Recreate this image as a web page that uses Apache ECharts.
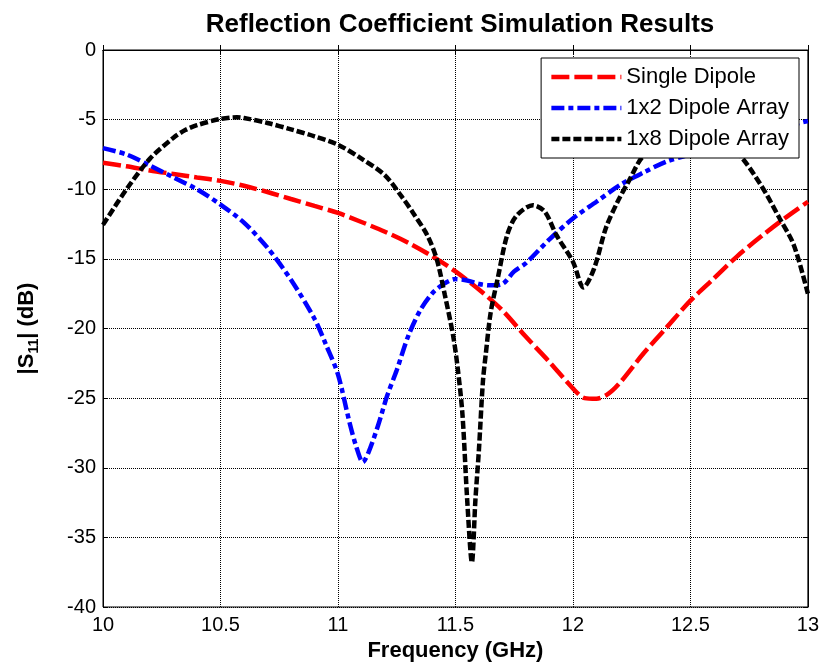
<!DOCTYPE html>
<html>
<head>
<meta charset="utf-8">
<script src="https://cdn.jsdelivr.net/npm/echarts@6/dist/echarts.min.js"></script>
<style>
  html, body { margin: 0; padding: 0; background: #fff; }
  #chart { width: 822px; height: 669px; }
</style>
</head>
<body>
<div id="chart"></div>
<script>
// Single Dipole
var freqSingle = [10.0, 10.1, 10.2, 10.3, 10.4, 10.5, 10.6, 10.7, 10.8, 10.9, 11.0, 11.1, 11.2, 11.3, 11.4,
  11.5, 11.6, 11.7, 11.8, 11.9, 12.0, 12.05, 12.1, 12.15, 12.2, 12.3, 12.4, 12.5, 12.6, 12.7, 12.8, 12.9, 13.0];
var s11Single = [-8.1, -8.35, -8.65, -8.9, -9.15, -9.4, -9.75, -10.2, -10.7, -11.2, -11.7, -12.35, -13.05, -13.85, -14.8,
  -15.9, -17.2, -18.7, -20.6, -22.4, -24.3, -25.0, -25.05, -24.7, -23.9, -21.8, -19.9, -18.0, -16.4, -14.8, -13.4, -12.1, -10.9];

// 1x2 Dipole Array
var freqArr2 = [10.0, 10.1, 10.2, 10.3, 10.4, 10.5, 10.6, 10.7, 10.8, 10.9, 10.95, 11.0, 11.05, 11.08, 11.106, 11.13,
  11.17, 11.21, 11.25, 11.3, 11.35, 11.4, 11.45, 11.5, 11.55, 11.6, 11.65, 11.7, 11.75, 11.8, 11.9, 12.0, 12.1,
  12.2, 12.3, 12.4, 12.5, 12.6, 12.7, 12.8, 12.9, 13.0];
var s11Arr2 = [-7.05, -7.5, -8.3, -9.15, -10.0, -11.1, -12.4, -14.2, -16.5, -19.3, -21.2, -23.3, -26.8, -28.6, -29.6, -28.9,
  -27.0, -24.8, -23.0, -20.5, -18.7, -17.5, -16.8, -16.45, -16.55, -16.8, -16.9, -16.8, -15.9, -15.3, -13.6, -12.1, -10.9,
  -9.7, -8.8, -8.0, -7.5, -7.0, -6.5, -6.0, -5.5, -5.1];

// 1x8 Dipole Array
var freqArr8 = [10.0, 10.1, 10.2, 10.3, 10.35, 10.4, 10.5, 10.57, 10.6, 10.7, 10.8, 10.9, 11.0, 11.1, 11.2, 11.27, 11.32,
  11.38, 11.42, 11.455, 11.49, 11.51, 11.53, 11.55, 11.57, 11.585, 11.6, 11.617, 11.63, 11.65, 11.68, 11.72,
  11.76, 11.83, 11.88, 11.93, 12.0, 12.045, 12.09, 12.14, 12.19, 12.24, 12.3, 12.4, 12.5, 12.6, 12.7, 12.8,
  12.88, 12.94, 13.0];
var s11Arr8 = [-12.56, -10.0, -7.8, -6.3, -5.75, -5.4, -4.95, -4.83, -4.88, -5.24, -5.7, -6.2, -6.8, -7.8, -9.0, -10.5, -11.7,
  -13.3, -15.0, -17.6, -20.5, -22.9, -26.2, -32.3, -36.8, -32.3, -28.7, -23.8, -21.7, -18.85, -16.4, -13.3,
  -11.9, -11.15, -11.6, -13.3, -15.2, -17.05, -15.7, -12.8, -10.9, -9.35, -7.6, -6.6, -6.2, -6.5, -7.4, -9.7,
  -12.1, -14.0, -17.5];

var xTicks = { min: 10, max: 13, step: 0.5 };
var yTicks = { min: -40, max: 0, step: 5 };

function pairs(xs, ys) {
  return xs.map(function (x, i) { return [x, ys[i]]; });
}

var font = "'Liberation Sans', Arial, sans-serif";
var chart = echarts.init(document.getElementById("chart"));

var option = {
  backgroundColor: "#fff",
  animation: false,
  title: {
    text: "Reflection Coefficient Simulation Results",
    left: 455,
    textAlign: "center",
    top: 7,
    textStyle: { fontFamily: font, fontSize: 26, fontWeight: "bold", color: "#000" },
  },
  grid: { left: 103, top: 50, right: 14, bottom: 62, show: true, borderColor: "#000", borderWidth: 1 },
  legend: {
    orient: "vertical",
    right: 23,
    top: 58,
    backgroundColor: "#fff",
    borderColor: "#000",
    borderWidth: 1,
    borderRadius: 0,
    padding: [8, 10, 8, 8],
    itemWidth: 70,
    itemHeight: 22,
    itemGap: 9,
    itemStyle: { opacity: 0 },
    lineStyle: { width: 4.5 },
    textStyle: { fontFamily: font, fontSize: 22, color: "#000" },
    data: ["Single Dipole", "1x2 Dipole Array", "1x8 Dipole Array"],
  },
  xAxis: [
    {
      type: "value",
      min: xTicks.min,
      max: xTicks.max,
      interval: xTicks.step,
      name: "Frequency (GHz)",
      nameLocation: "middle",
      nameGap: 33,
      nameTextStyle: { fontFamily: font, fontSize: 22, fontWeight: "bold", color: "#000" },
      axisLine: { lineStyle: { color: "#000", width: 1 } },
      axisTick: { inside: true, length: 5, lineStyle: { color: "#000" } },
      axisLabel: { fontFamily: font, fontSize: 20, color: "#000", margin: 8 },
      splitLine: { show: true, lineStyle: { type: "dotted", color: "#000", width: 1 } },
    },
    {
      type: "value",
      position: "top",
      min: xTicks.min,
      max: xTicks.max,
      interval: xTicks.step,
      axisLine: { lineStyle: { color: "#000" } },
      axisTick: { inside: true, length: 5, lineStyle: { color: "#000" } },
      axisLabel: { show: false },
      splitLine: { show: false },
    },
  ],
  yAxis: [
    {
      type: "value",
      min: yTicks.min,
      max: yTicks.max,
      interval: yTicks.step,
      name: "{t||S}{sub|11}{t|| (dB)}",
      nameLocation: "middle",
      nameGap: 62,
      nameTextStyle: {
        rich: {
          t: { fontFamily: font, fontSize: 22, fontWeight: "bold", color: "#000" },
          sub: { fontFamily: font, fontSize: 14, fontWeight: "bold", color: "#000", padding: [14, 0, 0, 0] },
        },
      },
      axisLine: { lineStyle: { color: "#000", width: 1 } },
      axisTick: { inside: true, length: 5, lineStyle: { color: "#000" } },
      axisLabel: { fontFamily: font, fontSize: 20, color: "#000", margin: 7 },
      splitLine: { show: true, lineStyle: { type: "dotted", color: "#000", width: 1 } },
    },
    {
      type: "value",
      position: "right",
      min: yTicks.min,
      max: yTicks.max,
      interval: yTicks.step,
      axisLine: { show: true, lineStyle: { color: "#000" } },
      axisTick: { show: true, inside: true, length: 5, lineStyle: { color: "#000" } },
      axisLabel: { show: false },
      splitLine: { show: false },
    },
  ],
  series: [
    {
      name: "Single Dipole",
      type: "line",
      data: pairs(freqSingle, s11Single),
      smooth: 0.3,
      symbol: "none",
      itemStyle: { color: "#ff0000" },
      lineStyle: { color: "#ff0000", width: 4.5, type: [18, 5] },
    },
    {
      name: "1x2 Dipole Array",
      type: "line",
      data: pairs(freqArr2, s11Arr2),
      smooth: 0.3,
      symbol: "none",
      itemStyle: { color: "#0000ff" },
      lineStyle: { color: "#0000ff", width: 4.5, type: [13, 4, 5, 4] },
    },
    {
      name: "1x8 Dipole Array",
      type: "line",
      data: pairs(freqArr8, s11Arr8),
      smooth: 0.3,
      symbol: "none",
      itemStyle: { color: "#000000" },
      lineStyle: { color: "#000000", width: 4.5, type: [8, 3] },
    },
  ],
};

chart.setOption(option);
</script>
</body>
</html>
